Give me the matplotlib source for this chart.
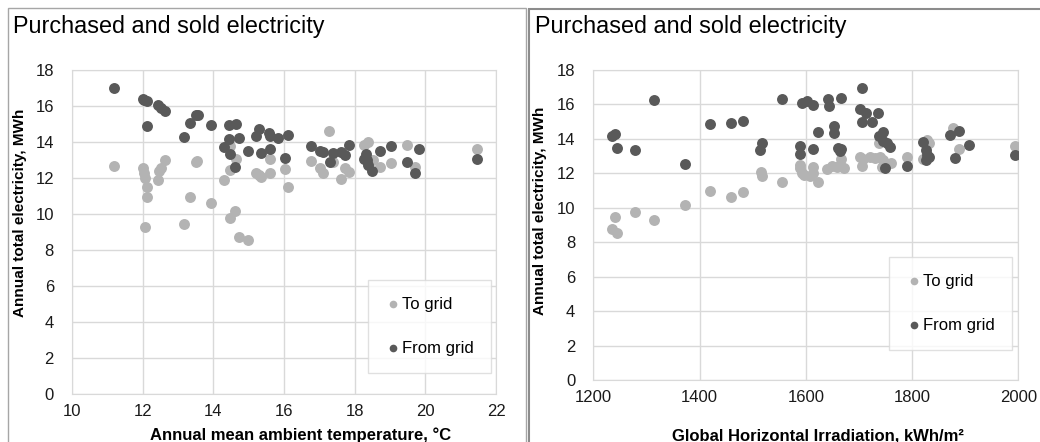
import matplotlib
matplotlib.use('Agg')
import matplotlib.pyplot as plt
from matplotlib.patches import Rectangle

plt.rcParams['font.family'] = ['Liberation Sans', 'DejaVu Sans']

# Left panel: annual mean ambient temperature (°C) vs annual electricity (MWh)
temp_to = [11.19, 12.0, 12.05, 12.08, 12.12, 12.12, 12.07, 12.43, 12.47, 12.51, 12.63,
           13.34, 13.18, 13.55, 13.5, 13.92, 14.29, 14.48, 14.46, 14.64, 14.48, 14.62,
           14.73, 14.99, 15.22, 15.29, 15.36, 15.59, 15.59, 16.03, 16.12, 16.76, 17.03,
           17.1, 17.28, 17.4, 17.6, 17.74, 17.83, 18.25, 18.37, 18.52, 18.73, 19.04,
           19.47, 19.71, 21.45]
elec_to_t = [12.67, 12.54, 12.26, 11.98, 11.52, 10.96, 9.29, 11.89, 12.41, 12.54, 13.0,
             10.93, 9.46, 12.96, 12.9, 10.63, 11.89, 13.78, 12.44, 13.04, 9.76, 10.17,
             8.74, 8.54, 12.26, 12.17, 12.04, 13.04, 12.28, 12.48, 11.52, 12.94, 12.54,
             12.3, 14.61, 12.91, 11.94, 12.54, 12.35, 13.83, 13.98, 13.0, 12.59, 12.81,
             13.85, 12.59, 13.59]
temp_from = [11.2, 12.0, 12.05, 12.12, 12.42, 12.51, 12.63, 12.12, 13.18, 13.34, 13.52,
             13.58, 13.92, 14.45, 14.65, 14.43, 14.73, 14.3, 14.48, 14.62, 14.99, 15.29,
             15.22, 15.36, 15.57, 15.6, 15.59, 15.84, 16.12, 16.03, 16.77, 17.03, 17.1,
             17.29, 17.4, 17.61, 17.74, 17.83, 18.25, 18.33, 18.35, 18.39, 18.49, 18.72,
             19.04, 19.47, 19.83, 19.71, 21.45]
elec_from_t = [17.0, 16.4, 16.35, 16.3, 16.04, 15.91, 15.74, 14.89, 14.26, 15.04, 15.48,
               15.52, 14.94, 14.94, 14.98, 14.15, 14.22, 13.74, 13.35, 12.59, 13.52, 14.74,
               14.33, 13.37, 14.52, 14.33, 13.59, 14.22, 14.37, 13.13, 13.78, 13.52, 13.44,
               12.91, 13.37, 13.46, 13.26, 13.83, 13.04, 13.32, 13.0, 12.72, 12.41, 13.52,
               13.8, 12.91, 13.63, 12.28, 13.06]

# Right panel: global horizontal irradiation (kWh/m2) vs annual electricity (MWh)
ghi_to = [1241, 1236, 1245, 1278, 1315, 1373, 1420, 1460, 1482, 1515, 1517, 1555,
          1590, 1590, 1592, 1597, 1608, 1613, 1613, 1623, 1639, 1649, 1658, 1664,
          1671, 1667, 1702, 1707, 1705, 1721, 1730, 1740, 1746, 1743, 1760, 1738,
          1791, 1821, 1829, 1832, 1878, 1889, 1994]
elec_to_g = [9.47, 8.77, 8.54, 9.78, 9.27, 10.16, 10.98, 10.65, 10.9, 12.06, 11.87, 11.52,
             12.49, 12.29, 12.0, 11.88, 11.87, 12.39, 12.0, 11.48, 12.23, 12.43, 12.39, 12.49,
             12.29, 12.82, 12.97, 12.82, 12.43, 12.97, 12.91, 12.97, 12.78, 12.35, 12.58, 13.78,
             12.97, 12.82, 13.94, 13.78, 14.62, 13.4, 13.59]
ghi_from = [1236, 1241, 1245, 1278, 1315, 1373, 1420, 1460, 1482, 1517, 1514, 1555,
            1590, 1590, 1593, 1602, 1613, 1641, 1644, 1666, 1705, 1702, 1713, 1736,
            1706, 1724, 1623, 1654, 1654, 1745, 1738, 1745, 1752, 1758, 1614, 1661,
            1667, 1664, 1750, 1791, 1821, 1827, 1829, 1831, 1826, 1871, 1888, 1880,
            1907, 1994]
elec_from_g = [14.19, 14.29, 13.49, 13.37, 16.28, 12.56, 14.87, 14.91, 15.04, 13.76, 13.36, 16.34,
               13.59, 13.11, 16.07, 16.22, 15.97, 16.32, 15.93, 16.39, 16.97, 15.74, 15.49, 15.52,
               14.96, 14.96, 14.38, 14.77, 14.32, 14.42, 14.17, 13.88, 13.74, 13.51, 13.41, 13.49,
               13.4, 13.32, 12.29, 12.43, 13.82, 13.36, 13.07, 12.93, 12.78, 14.21, 14.46, 12.89,
               13.63, 13.07]

LIGHT = '#b3b3b3'
DARK = '#595959'
GRID = '#d9d9d9'
MS = 62

W, H = 1040, 442
fig = plt.figure(figsize=(W / 100, H / 100), dpi=100)

# panel frames
fig.patches.append(Rectangle((7.5 / W, -0.1), 518 / W, 1.1 - 8.5 / H, transform=fig.transFigure,
                             fill=False, edgecolor='#a6a6a6', lw=1))
fig.patches.append(Rectangle((529 / W, -0.1), 0.6, 1.1 - 9 / H, transform=fig.transFigure,
                             fill=False, edgecolor='#8c8c8c', lw=1.5))

def px_axes(x0, x1, y0, y1):
    return fig.add_axes([x0 / W, 1 - y1 / H, (x1 - x0) / W, (y1 - y0) / H])

def style(ax):
    ax.grid(True, color=GRID, lw=1)
    ax.set_axisbelow(True)
    for s in ax.spines.values():
        s.set_color(GRID)
    ax.tick_params(length=0, labelsize=12, colors='#1a1a1a')
    ax.tick_params(axis='y', pad=13)
    ax.tick_params(axis='x', pad=7)
    ax.set_yticks(range(0, 19, 2))
    ax.set_ylim(0, 18)

def legend(ax, anchor):
    leg = ax.legend(loc='upper left', bbox_to_anchor=anchor, bbox_transform=fig.transFigure,
                    fontsize=12, markerscale=0.7, frameon=True, fancybox=False,
                    edgecolor=GRID, borderpad=1.0, labelspacing=1.75, handletextpad=0.05,
                    handlelength=1.0, borderaxespad=0)
    leg.get_frame().set_linewidth(1)

# left panel
ax1 = px_axes(72, 496, 70, 394)
ax1.scatter(temp_to, elec_to_t, s=MS, color=LIGHT, label='To grid', zorder=3, linewidths=0)
ax1.scatter(temp_from, elec_from_t, s=MS, color=DARK, label='From grid', zorder=4, linewidths=0)
style(ax1)
ax1.set_xlim(10, 22)
ax1.set_xticks(range(10, 23, 2))
ax1.set_xlabel('Annual mean ambient temperature, °C', fontsize=12, fontweight='bold', va='top')
ax1.set_ylabel('Annual total electricity, MWh', fontsize=11, fontweight='bold')
ax1.xaxis.set_label_coords(0.54, -0.102)
ax1.yaxis.set_label_coords(-0.106, 0.56)
legend(ax1, (368 / W, 1 - 280 / H))
fig.text(13 / W, 1 - 33.3 / H, 'Purchased and sold electricity', fontsize=16.8, va='baseline')

# right panel
ax2 = px_axes(593.3, 1018.3, 70, 380)
ax2.scatter(ghi_to, elec_to_g, s=MS, color=LIGHT, label='To grid', zorder=3, linewidths=0)
ax2.scatter(ghi_from, elec_from_g, s=MS, color=DARK, label='From grid', zorder=4, linewidths=0)
style(ax2)
ax2.set_xlim(1200, 2000)
ax2.set_xticks(range(1200, 2001, 200))
ax2.set_xlabel('Global Horizontal Irradiation, kWh/m²', fontsize=12, fontweight='bold', va='top')
ax2.set_ylabel('Annual total electricity, MWh', fontsize=11, fontweight='bold')
ax2.xaxis.set_label_coords(0.5275, -0.155)
ax2.yaxis.set_label_coords(-0.108, 0.545)
legend(ax2, (889 / W, 1 - 257 / H))
fig.text(535 / W, 1 - 33.3 / H, 'Purchased and sold electricity', fontsize=16.8, va='baseline')

fig.savefig('out.png', dpi=100)
